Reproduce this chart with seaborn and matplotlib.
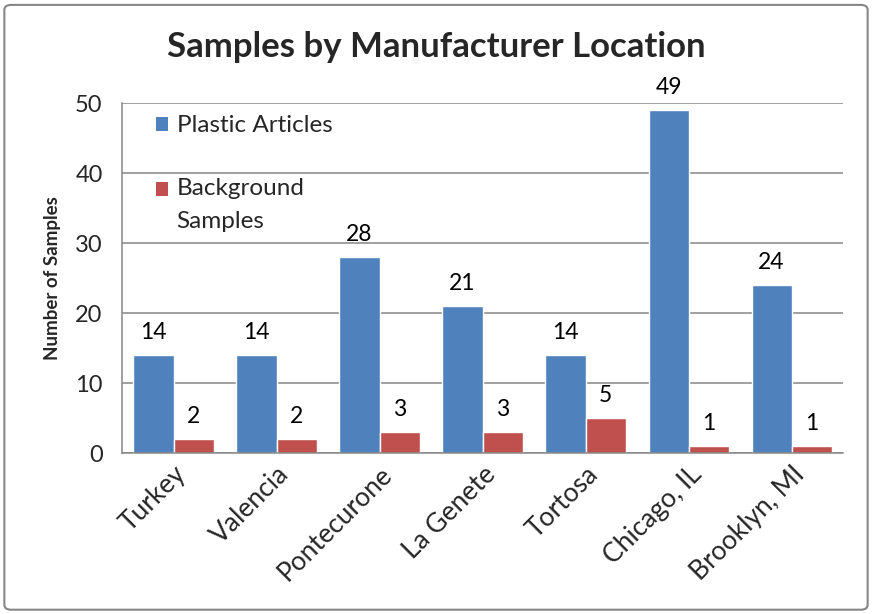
import matplotlib
matplotlib.use("Agg")
import matplotlib.pyplot as plt
import seaborn as sns
import pandas as pd
from matplotlib.patches import FancyBboxPatch, Patch, Rectangle
from matplotlib.legend_handler import HandlerPatch

locations = ["Turkey", "Valencia", "Pontecurone", "La Genete", "Tortosa", "Chicago, IL", "Brooklyn, MI"]
plastic = [14, 14, 28, 21, 14, 49, 24]
background = [2, 2, 3, 3, 5, 1, 1]
series = ["Plastic Articles", "Background\nSamples"]
colors = ["#4F81BD", "#C0504D"]
yticks = [0, 10, 20, 30, 40, 50]

df = pd.DataFrame({
    "Location": locations * 2,
    "Series": [series[0]] * len(locations) + [series[1]] * len(locations),
    "Value": plastic + background,
})

sns.set_theme(style="white")
plt.rcParams["font.family"] = ["Lato", "DejaVu Sans"]

fig = plt.figure(figsize=(8.72, 6.14), dpi=100)
ax = fig.add_axes([0.140, 0.262, 0.827, 0.570])

sns.barplot(data=df, x="Location", y="Value", hue="Series", palette=colors,
            width=0.78, gap=0, ax=ax, legend=False, saturation=1)

for c in ax.containers:
    ax.bar_label(c, padding=9, fontsize=16.5, color="black")

ax.set_ylim(0, 50)
ax.set_yticks(yticks)
ax.set_yticklabels([str(t) for t in yticks], fontsize=17)
ax.yaxis.grid(True, color="#868686", linewidth=1.1)
ax.set_axisbelow(True)
ax.set_xlim(-0.5, len(locations) - 0.5)
ax.tick_params(axis="y", length=0, pad=14)
ax.tick_params(axis="x", length=0, pad=6)
plt.setp(ax.get_xticklabels(), rotation=45, ha="right", rotation_mode="anchor", fontsize=19)
for s in ["top", "right"]:
    ax.spines[s].set_visible(False)
ax.spines["left"].set_color("#868686")
ax.spines["bottom"].set_color("#868686")
ax.spines["left"].set_linewidth(1.1)
ax.spines["bottom"].set_linewidth(1.1)
ax.set_xlabel("")
ax.set_ylabel("Number of Samples", fontsize=13.5, fontweight="bold", labelpad=10)


def first_line_patch(legend, orig_handle, xdescent, ydescent, width, height, fontsize):
    return Rectangle(xy=(-xdescent, -ydescent + 0.66 * fontsize), width=width, height=height)


handles = [Patch(facecolor=c, edgecolor="none") for c in colors]
leg = ax.legend(handles, series, loc="upper left", bbox_to_anchor=(0.03, 1.0), frameon=False,
                fontsize=17.5, handlelength=0.5, handleheight=0.5, handletextpad=0.35,
                labelspacing=1.7, borderaxespad=0.1,
                handler_map={handles[1]: HandlerPatch(patch_func=first_line_patch)})
for t in leg.get_texts():
    t.set_linespacing(1.75)

fig.text(0.5, 0.923, "Samples by Manufacturer Location", ha="center", va="center",
         fontsize=25, fontweight="bold")

fig.patches.append(FancyBboxPatch((0.005, 0.007), 0.99, 0.985, boxstyle="round,pad=0,rounding_size=0.008",
                                  transform=fig.transFigure, fill=False, edgecolor="#868686",
                                  linewidth=1.5, figure=fig))

fig.savefig("out.png", dpi=100, facecolor="white")
